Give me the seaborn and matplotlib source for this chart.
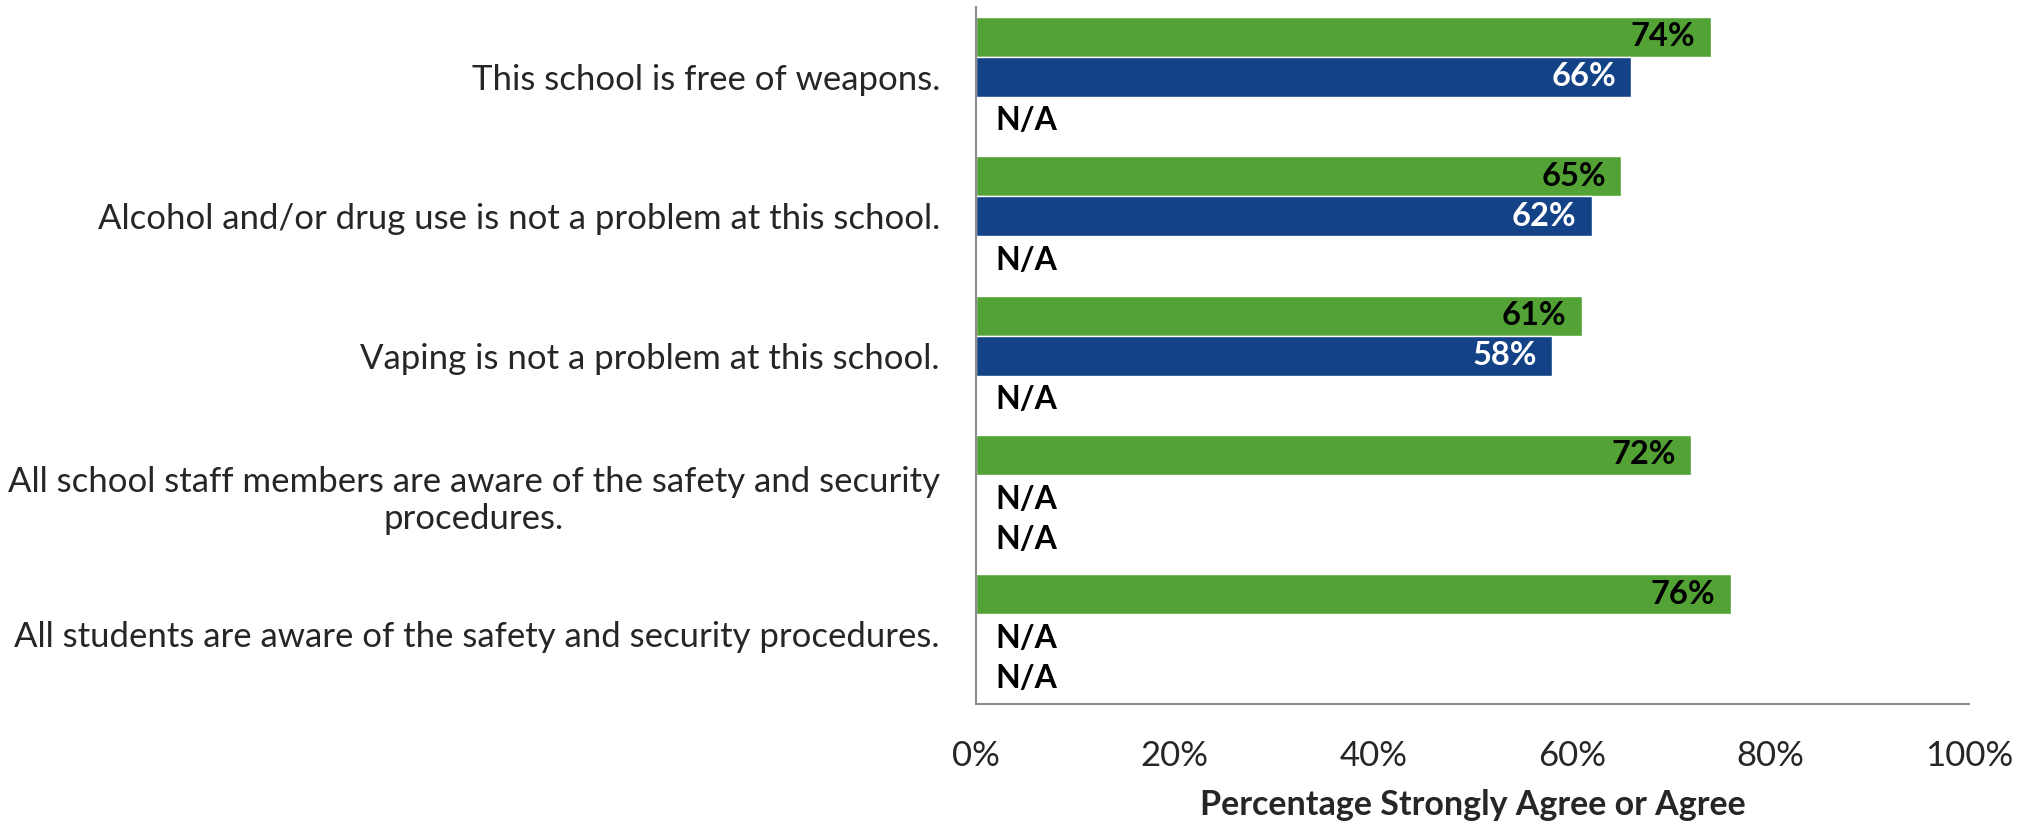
import numpy as np
import pandas as pd
import matplotlib
matplotlib.use("Agg")
import matplotlib.pyplot as plt
import seaborn as sns

# Datos del gráfico
categories = [
    "This school is free of weapons.",
    "Alcohol and/or drug use is not a problem at this school.",
    "Vaping is not a problem at this school.",
    "All school staff members are aware of the safety and security\nprocedures.",
    "All students are aware of the safety and security procedures.",
]
series_names = ["Series 1", "Series 2", "Series 3"]
series1 = [74, 65, 61, 72, 76]
series2 = [66, 62, 58, np.nan, np.nan]
series3 = [np.nan, np.nan, np.nan, np.nan, np.nan]
x_ticks = [0, 20, 40, 60, 80, 100]

colors = {"Series 1": "#52A236", "Series 2": "#134287", "Series 3": "#7F7F7F"}
label_colors = {"Series 1": "black", "Series 2": "white", "Series 3": "black"}

rows = []
for s_name, vals in zip(series_names, [series1, series2, series3]):
    for cat, v in zip(categories, vals):
        rows.append({"Category": cat, "Series": s_name, "Value": v})
df = pd.DataFrame(rows)
df["Plot"] = df["Value"].fillna(0)

sns.set_style("white")
plt.rcParams["font.family"] = ["Lato", "DejaVu Sans"]

fig = plt.figure(figsize=(20.28, 8.27), dpi=100)
ax = fig.add_axes([0.4813, 0.1487, 0.4896, 0.8428])

sns.barplot(data=df, y="Category", x="Plot", hue="Series", order=categories,
            hue_order=series_names, palette=colors, width=0.86, orient="h",
            ax=ax, legend=False, saturation=1, errorbar=None)

# Etiquetas de valor / N/A
for s_name, container in zip(series_names, ax.containers):
    sub = df[df["Series"] == s_name].set_index("Category").loc[categories]
    for bar, v in zip(container, sub["Value"]):
        yc = bar.get_y() + bar.get_height() / 2
        if np.isnan(v):
            ax.annotate("N/A", xy=(0, yc), xytext=(14, -3), textcoords="offset points",
                        ha="left", va="center", fontsize=23, fontweight="bold", color="black")
        else:
            ax.annotate(f"{v:.0f}%", xy=(bar.get_width(), yc), xytext=(-11, 0),
                        textcoords="offset points", ha="right", va="center",
                        fontsize=23.5, fontweight="bold", color=label_colors[s_name])

ax.set_xlim(0, 100)
ax.set_ylim(len(categories) - 0.5, -0.5)
ax.set_xticks(x_ticks)
ax.set_xticklabels([f"{t}%" for t in x_ticks], fontsize=25)
ax.set_xlabel("Percentage Strongly Agree or Agree", fontsize=24.5, fontweight="bold", labelpad=12)
ax.set_ylabel("")

# Eje Y: etiquetas sin marcas, marcas menores en los separadores
ax.tick_params(axis="y", which="major", length=0, pad=26, labelsize=25)
ax.set_yticks(np.arange(-0.5, len(categories), 1.0), minor=True)
ax.tick_params(axis="y", which="minor", length=8, color="#8C8C8C", width=1.5, direction="out")
ax.tick_params(axis="x", which="major", length=8, color="#8C8C8C", width=1.5, direction="out", pad=18)
for lbl in ax.get_yticklabels():
    lbl.set_multialignment("center")

for side in ["top", "right"]:
    ax.spines[side].set_visible(False)
for side in ["left", "bottom"]:
    ax.spines[side].set_color("#8C8C8C")
    ax.spines[side].set_linewidth(1.5)

fig.savefig("out.png", dpi=100)
